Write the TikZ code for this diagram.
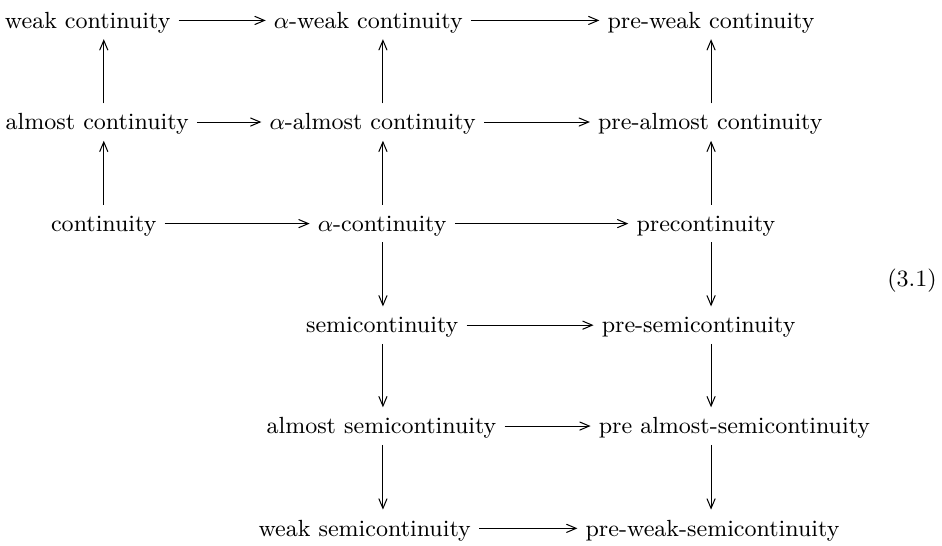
\documentclass[tikz,border=0pt]{standalone}
\usepackage{tikz}
\usetikzlibrary{arrows}

\begin{document}
\begin{tikzpicture}[>=angle 45, thin, every node/.style={font=\fontsize{9.1}{11}\selectfont, text height=1.65ex, text depth=.25ex, inner sep=3pt}]
  \useasboundingbox (0,0) rectangle (12.89,7.46);
  % columns of the vertical arrows
  \coordinate (colA) at (1.42,0);
  \coordinate (colB) at (5.24,0);
  \coordinate (colC) at (9.73,0);

  \node (wk)   at (1.20,7.18) {weak continuity};
  \node (awk)  at (5.04,7.18) {$\alpha$-weak continuity};
  \node (pwk)  at (9.73,7.18) {pre-weak continuity};

  \node (alm)  at (1.33,5.79) {almost continuity};
  \node (aalm) at (5.10,5.79) {$\alpha$-almost continuity};
  \node (palm) at (9.72,5.79) {pre-almost continuity};

  \node (ct)   at (1.42,4.40) {continuity};
  \node (act)  at (5.23,4.40) {$\alpha$-continuity};
  \node (pct)  at (9.66,4.40) {precontinuity};

  \node (sc)   at (5.23,3.01) {semicontinuity};
  \node (psc)  at (9.56,3.01) {pre-semicontinuity};

  \node (asc)  at (5.22,1.63) {almost semicontinuity};
  \node (pasc) at (10.05,1.63) {pre almost-semicontinuity};

  \node (wsc)  at (4.99,0.23) {weak semicontinuity};
  \node (pwsc) at (9.75,0.23) {pre-weak-semicontinuity};

  \node (eqn)  at (12.48,3.65) {(3.1)};

  % horizontal arrows
  \draw[->] (wk) -- (awk);
  \draw[->] (awk) -- (pwk);
  \draw[->] (alm) -- (aalm);
  \draw[->] (aalm) -- (palm);
  \draw[->] (ct) -- (act);
  \draw[->] (act) -- (pct);
  \draw[->] (sc) -- (psc);
  \draw[->] (asc) -- (pasc);
  \draw[->] (wsc) -- (pwsc);

  % vertical arrows
  \draw[->] (alm.north -| colA) -- (wk.south -| colA);
  \draw[->] (ct.north -| colA) -- (alm.south -| colA);
  \draw[->] (aalm.north -| colB) -- (awk.south -| colB);
  \draw[->] (act.north -| colB) -- (aalm.south -| colB);
  \draw[->] (palm.north -| colC) -- (pwk.south -| colC);
  \draw[->] (pct.north -| colC) -- (palm.south -| colC);
  \draw[->] (act.south -| colB) -- (sc.north -| colB);
  \draw[->] (sc.south -| colB) -- (asc.north -| colB);
  \draw[->] (asc.south -| colB) -- (wsc.north -| colB);
  \draw[->] (pct.south -| colC) -- (psc.north -| colC);
  \draw[->] (psc.south -| colC) -- (pasc.north -| colC);
  \draw[->] (pasc.south -| colC) -- (pwsc.north -| colC);
\end{tikzpicture}
\end{document}
